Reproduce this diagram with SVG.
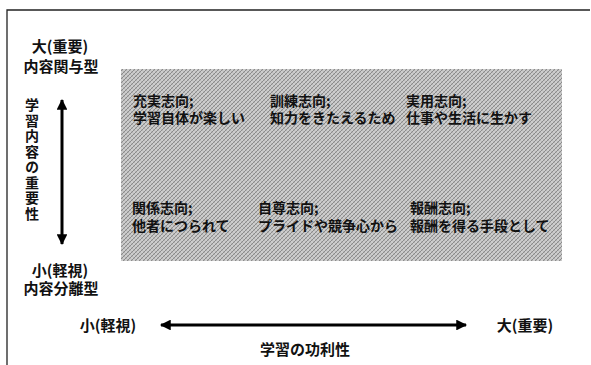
<svg xmlns="http://www.w3.org/2000/svg" width="591" height="365" viewBox="0 0 591 365">
  <defs>
    <pattern id="hatch" width="4" height="4" patternUnits="userSpaceOnUse">
      <rect width="4" height="4" fill="#cdcdcd"/>
      <path d="M0,4 L4,0 M-1,1 L1,-1 M3,5 L5,3" stroke="#808080" stroke-width="0.85"/>
      <path d="M0,0 L4,4" stroke="#a8a8a8" stroke-width="0.6"/>
    </pattern>
    <marker id="ah" viewBox="0 0 10 10" refX="9" refY="5" markerWidth="4" markerHeight="3.6" orient="auto-start-reverse" markerUnits="strokeWidth">
      <path d="M0,0 L10,5 L0,10 Z" fill="#000"/>
    </marker>
    <style>
      text { font-family: "Noto Sans CJK JP", "Noto Sans", sans-serif; font-weight: bold; fill: #111; }
      .ax { font-size: 15px; }
      .vt { font-size: 14px; writing-mode: vertical-rl; letter-spacing: 1.5px; }
      .in { font-size: 14px; }
      .arrow { stroke: #000; stroke-width: 3; fill: none; }
      .frame { stroke: #222; stroke-width: 1.3; fill: none; }
    </style>
  </defs>

  <g id="frame">
    <path class="frame" d="M590,10 L7,10 L7,365"/>
  </g>

  <g id="region">
    <rect x="121" y="69" width="441" height="192" fill="url(#hatch)"/>
  </g>

  <g id="connectors">
    <line class="arrow" x1="62" y1="100" x2="62" y2="244" marker-start="url(#ah)" marker-end="url(#ah)"/>
    <line class="arrow" x1="161" y1="325" x2="466" y2="325" marker-start="url(#ah)" marker-end="url(#ah)"/>
  </g>

  <g id="y-top">
    <text class="ax" x="60" y="52" text-anchor="middle">大(重要)</text>
    <text class="ax" x="61" y="72" text-anchor="middle">内容関与型</text>
  </g>
  <g id="y-bottom">
    <text class="ax" x="60" y="276" text-anchor="middle">小(軽視)</text>
    <text class="ax" x="61" y="294" text-anchor="middle">内容分離型</text>
  </g>
  <g id="y-title">
    <text class="vt" x="32" y="98">学習内容の重要性</text>
  </g>
  <g id="x-left">
    <text class="ax" x="108" y="331" text-anchor="middle">小(軽視)</text>
  </g>
  <g id="x-right">
    <text class="ax" x="525" y="331" text-anchor="middle">大(重要)</text>
  </g>
  <g id="x-title">
    <text class="ax" x="305" y="355" text-anchor="middle">学習の功利性</text>
  </g>

  <g id="jujitsu">
    <text class="in" x="133" y="106">充実志向;</text>
    <text class="in" x="133" y="122.5">学習自体が楽しい</text>
  </g>
  <g id="kunren">
    <text class="in" x="270" y="106">訓練志向;</text>
    <text class="in" x="270" y="122.5">知力をきたえるため</text>
  </g>
  <g id="jitsuyo">
    <text class="in" x="406" y="106">実用志向;</text>
    <text class="in" x="406" y="122.5">仕事や生活に生かす</text>
  </g>
  <g id="kankei">
    <text class="in" x="132" y="213">関係志向;</text>
    <text class="in" x="132" y="230.5">他者につられて</text>
  </g>
  <g id="jison">
    <text class="in" x="258" y="213">自尊志向;</text>
    <text class="in" x="258" y="230.5">プライドや競争心から</text>
  </g>
  <g id="hoshu">
    <text class="in" x="410" y="213">報酬志向;</text>
    <text class="in" x="410" y="230.5">報酬を得る手段として</text>
  </g>
</svg>
